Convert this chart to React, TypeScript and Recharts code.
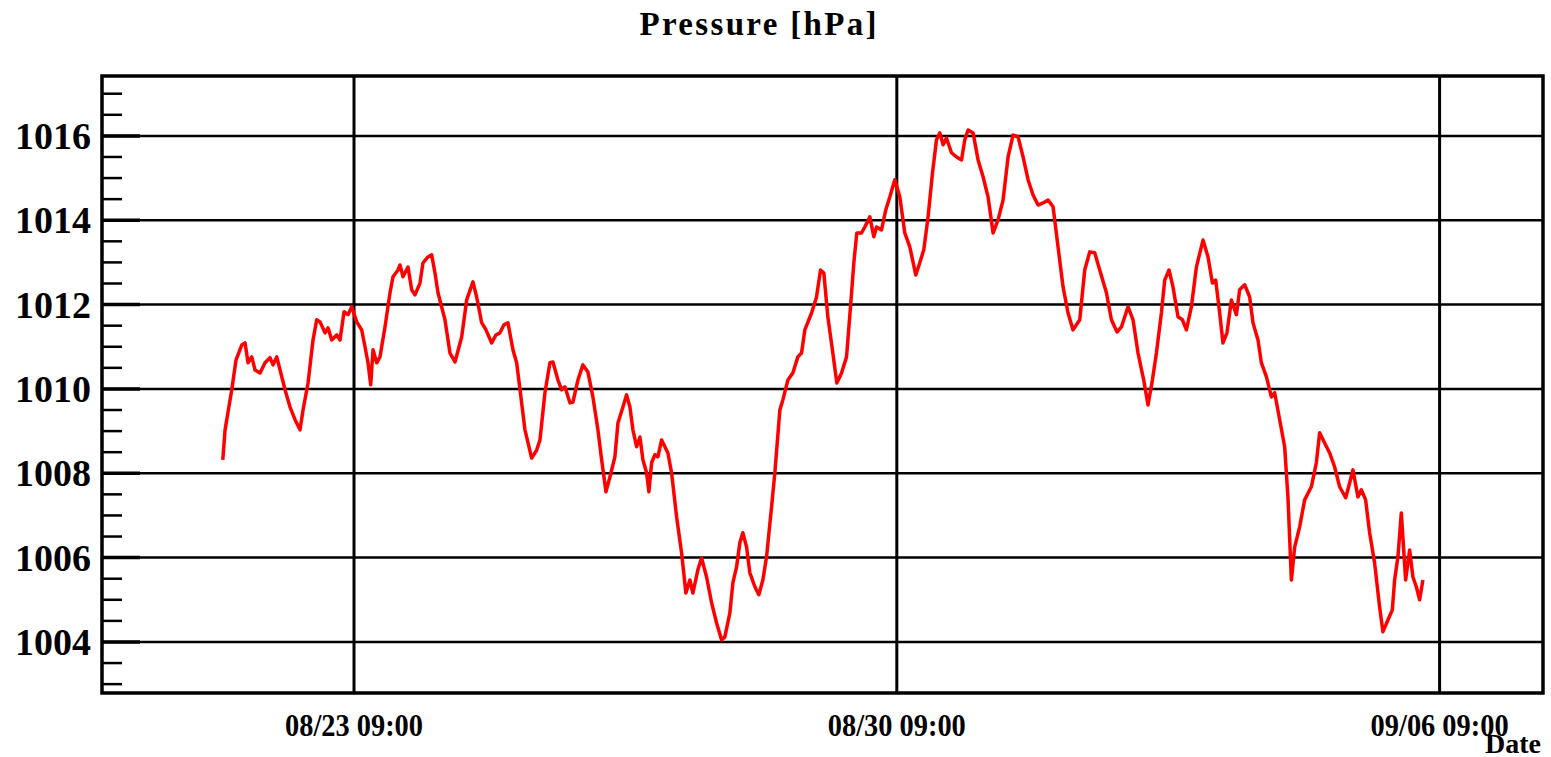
import React from "react";
import { LineChart, Line, XAxis, YAxis, ReferenceLine, ReferenceArea } from "recharts";

/* ---------- data (hours relative to 08/23 09:00, pressure in hPa) ---------- */
const hours = [
  -40.62, -39.91, -37.84, -36.51, -34.74, -33.72, -32.8, -31.65, -30.63, -29.08,
  -27.54, -25.99, -25.06, -23.92, -22.89, -21.35, -19.8, -18.25, -16.71, -15.78,
  -14.23, -12.69, -11.54, -10.52, -8.97, -8.04, -6.9, -5.35, -4.33, -3.09,
  -1.86, -0.71, 0.84, 2.38, 3.4, 4.33, 5.17, 5.88, 7.02, 8.04,
  9.59, 11.14, 12.07, 13.61, 14.23, 15.16, 16.71, 17.85, 18.87, 20.42,
  21.35, 22.89, 24.04, 25.06, 25.99, 28.15, 29.7, 31.25, 33.32, 34.87,
  36.82, 37.96, 39.51, 40.84, 42.6, 43.93, 45.17, 46.41, 47.65, 49.19,
  50.34, 52.91, 54.98, 56.53, 57.55, 59.09, 60.64, 61.57, 63.12, 64.26,
  65.28, 66.83, 67.76, 69.3, 70.85, 72.4, 73.94, 75.49, 76.64, 77.97,
  79.2, 80.75, 81.68, 83.23, 84.37, 85.39, 86.32, 87.46, 88.49, 89.41,
  90.56, 91.27, 92.11, 93.13, 94.05, 95.2, 96.22, 97.15, 98.29, 99.84,
  101.39, 102.72, 103.96, 104.88, 106.43, 107.57, 109.12, 110.67, 112.22, 113.76,
  114.78, 116.33, 117.26, 118.4, 119.42, 120.35, 121.5, 122.52, 124.07, 125.3,
  126.54, 127.69, 129.23, 130.25, 131.8, 132.73, 134.28, 135.82, 137.37, 138.51,
  139.53, 141.61, 143.15, 144.39, 145.41, 146.65, 148.2, 149.44, 150.89, 152.44,
  153.67, 154.7, 155.62, 157.08, 158.1, 159.65, 160.88, 161.72, 163.26, 164.6,
  165.83, 167.38, 168.93, 170.47, 172.02, 173.88, 175.11, 176.35, 177.68, 179.04,
  180.28, 181.3, 182.33, 183.37, 184.92, 186.47, 188.02, 189.04, 190.06, 191.61,
  193.15, 194.7, 196.25, 197.8, 199.34, 200.89, 202.44, 203.98, 205.53, 207.08,
  208.62, 210.17, 211.72, 213.26, 214.81, 216.36, 217.9, 219.45, 221.0, 222.54,
  224.62, 226.16, 227.71, 229.26, 230.8, 232.88, 234.42, 236.16, 237.52, 239.56,
  241.11, 242.66, 244.42, 245.75, 247.11, 248.35, 249.89, 250.92, 252.25, 253.48,
  255.03, 256.39, 257.63, 259.18, 260.72, 262.77, 264.32, 265.68, 266.7, 267.93,
  268.95, 270.19, 271.55, 273.1, 274.12, 275.67, 277.21, 278.24, 279.79, 280.83,
  282.38, 283.93, 284.95, 286.5, 288.04, 289.06, 290.12, 291.14, 292.68, 294.23,
  296.3, 297.85, 298.87, 300.42, 301.97, 303.51, 305.06, 306.92, 308.15, 309.17,
  310.72, 311.77, 313.1, 314.34, 315.89, 317.43, 318.45, 320.0, 321.36, 322.08,
  323.1, 324.15, 325.48, 326.72, 327.74, 328.79, 329.81, 330.83,
];

const pressure = [
  1008.32, 1009.03, 1009.98, 1010.69, 1011.04, 1011.09, 1010.62, 1010.76, 1010.45, 1010.38,
  1010.62, 1010.74, 1010.57, 1010.76, 1010.45, 1009.98, 1009.57, 1009.27, 1009.03, 1009.5,
  1010.14, 1011.16, 1011.64, 1011.59, 1011.33, 1011.45, 1011.16, 1011.28, 1011.16, 1011.83,
  1011.76, 1011.95, 1011.59, 1011.4, 1011.0, 1010.62, 1010.1, 1010.93, 1010.62, 1010.76,
  1011.47, 1012.28, 1012.66, 1012.82, 1012.94, 1012.66, 1012.89, 1012.35, 1012.23, 1012.51,
  1012.99, 1013.13, 1013.18, 1012.75, 1012.28, 1011.64, 1010.85, 1010.64, 1011.23, 1012.11,
  1012.54, 1012.18, 1011.57, 1011.4, 1011.09, 1011.28, 1011.33, 1011.52, 1011.57, 1010.93,
  1010.62, 1009.03, 1008.36, 1008.55, 1008.79, 1009.91, 1010.62, 1010.64, 1010.21, 1009.98,
  1010.05, 1009.67, 1009.69, 1010.21, 1010.57, 1010.4, 1009.81, 1009.03, 1008.32, 1007.56,
  1007.91, 1008.39, 1009.19, 1009.57, 1009.86, 1009.57, 1009.03, 1008.63, 1008.86, 1008.32,
  1008.01, 1007.56, 1008.25, 1008.44, 1008.39, 1008.79, 1008.63, 1008.48, 1008.01, 1006.97,
  1006.11, 1005.16, 1005.47, 1005.16, 1005.71, 1005.99, 1005.54, 1004.93, 1004.45, 1004.05,
  1004.12, 1004.69, 1005.4, 1005.78, 1006.35, 1006.59, 1006.25, 1005.64, 1005.31, 1005.12,
  1005.47, 1006.02, 1007.2, 1008.01, 1009.5, 1009.74, 1010.21, 1010.38, 1010.76, 1010.85,
  1011.4, 1011.8, 1012.18, 1012.82, 1012.75, 1011.71, 1010.85, 1010.14, 1010.38, 1010.76,
  1011.95, 1012.99, 1013.7, 1013.7, 1013.84, 1014.08, 1013.61, 1013.84, 1013.77, 1014.25,
  1014.55, 1014.96, 1014.55, 1013.7, 1013.37, 1012.7, 1012.99, 1013.3, 1014.08, 1015.12,
  1015.91, 1016.07, 1015.79, 1015.95, 1015.6, 1015.5, 1015.43, 1015.91, 1016.14, 1016.07,
  1015.43, 1015.03, 1014.55, 1013.7, 1014.01, 1014.48, 1015.5, 1016.02, 1015.98, 1015.5,
  1014.96, 1014.6, 1014.36, 1014.41, 1014.48, 1014.32, 1013.37, 1012.42, 1011.8, 1011.4,
  1011.64, 1012.82, 1013.25, 1013.23, 1012.82, 1012.28, 1011.64, 1011.35, 1011.47, 1011.95,
  1011.64, 1010.85, 1010.21, 1009.62, 1010.21, 1010.85, 1011.8, 1012.58, 1012.82, 1012.42,
  1011.71, 1011.64, 1011.4, 1011.95, 1012.89, 1013.53, 1013.13, 1012.51, 1012.58, 1011.8,
  1011.09, 1011.33, 1012.11, 1011.76, 1012.35, 1012.47, 1012.18, 1011.57, 1011.16, 1010.62,
  1010.29, 1009.81, 1009.91, 1009.27, 1008.63, 1007.44, 1005.47, 1006.25, 1006.73, 1007.37,
  1007.68, 1008.25, 1008.96, 1008.72, 1008.48, 1008.15, 1007.68, 1007.42, 1007.77, 1008.08,
  1007.44, 1007.61, 1007.37, 1006.59, 1005.87, 1004.83, 1004.24, 1004.52, 1004.76, 1005.47,
  1006.02, 1007.06, 1005.47, 1006.18, 1005.54, 1005.31, 1005.0, 1005.47,
];

const dateTicks = [0, 168, 336];
const dateLabels = ["08/23 09:00", "08/30 09:00", "09/06 09:00"];

const majorY = [1004, 1006, 1008, 1010, 1012, 1014, 1016];
const allYTicks = [
  1003, 1003.5, 1004, 1004.5, 1005, 1005.5, 1006, 1006.5, 1007, 1007.5,
  1008, 1008.5, 1009, 1009.5, 1010, 1010.5, 1011, 1011.5, 1012, 1012.5,
  1013, 1013.5, 1014, 1014.5, 1015, 1015.5, 1016, 1016.5, 1017,
];

const xDomain = [-78, 368];
const yDomain = [1002.79, 1017.42];

/* ---------- visuals ---------- */
const W = 1551;
const H = 757;
const PLOT_LEFT = 102;
const serif = "'Liberation Serif', 'Times New Roman', serif";

const data = hours.map((h, i) => ({ h, p: pressure[i] }));

function YTick(props: any) {
  const { y, payload } = props;
  const v = Number(payload?.value);
  const major = majorY.includes(v);
  return (
    <g>
      <line
        x1={PLOT_LEFT}
        x2={PLOT_LEFT + (major ? 38 : 20)}
        y1={y}
        y2={y}
        stroke="#000"
        strokeWidth={major ? 3.5 : 2.5}
      />
      {major && (
        <text
          x={91}
          y={y + 13}
          textAnchor="end"
          fontFamily={serif}
          fontWeight="bold"
          fontSize={38}
          fill="#000"
        >
          {v}
        </text>
      )}
    </g>
  );
}

function XTick(props: any) {
  const { x, payload } = props;
  const idx = dateTicks.indexOf(Number(payload?.value));
  return (
    <text
      x={x}
      y={736}
      textAnchor="middle"
      fontFamily={serif}
      fontWeight="bold"
      fontSize={31}
      textLength={138}
      lengthAdjust="spacingAndGlyphs"
      fill="#000"
    >
      {dateLabels[idx] ?? ""}
    </text>
  );
}

export default function App() {
  return (
    <div style={{ position: "absolute", left: 0, top: 0, width: W, height: H, background: "#fff" }}>
      <LineChart width={W} height={H} data={data} margin={{ top: 76, right: 8, bottom: 0, left: 0 }}>
        <XAxis
          dataKey="h"
          type="number"
          domain={xDomain}
          ticks={dateTicks}
          allowDataOverflow
          axisLine={false}
          tickLine={false}
          height={64}
          tick={<XTick />}
          interval={0}
        />
        <YAxis
          type="number"
          domain={yDomain}
          ticks={allYTicks}
          allowDataOverflow
          axisLine={false}
          tickLine={false}
          width={PLOT_LEFT}
          tick={<YTick />}
          interval={0}
        />
        {majorY.map((v) => (
          <ReferenceLine key={"y" + v} y={v} stroke="#000" strokeWidth={2.5} />
        ))}
        {dateTicks.map((t) => (
          <ReferenceLine key={"x" + t} x={t} stroke="#000" strokeWidth={3} />
        ))}
        <ReferenceArea
          x1={xDomain[0]}
          x2={xDomain[1]}
          y1={yDomain[0]}
          y2={yDomain[1]}
          fill="none"
          fillOpacity={0}
          stroke="#000"
          strokeWidth={3.5}
        />
        <Line
          type="linear"
          dataKey="p"
          stroke="#ff0000"
          strokeWidth={3.5}
          strokeLinejoin="round"
          dot={false}
          isAnimationActive={false}
          zIndex={1000}
        />
      </LineChart>
      <svg
        width={W}
        height={H}
        style={{ position: "absolute", left: 0, top: 0, pointerEvents: "none" }}
      >
        <text
          x={758}
          y={35}
          textAnchor="middle"
          fontFamily={serif}
          fontWeight="bold"
          fontSize={33}
          textLength={237}
          lengthAdjust="spacing"
        >
          Pressure [hPa]
        </text>
        <text x={1541} y={753} textAnchor="end" fontFamily={serif} fontWeight="bold" fontSize={28}>
          Date
        </text>
      </svg>
    </div>
  );
}
